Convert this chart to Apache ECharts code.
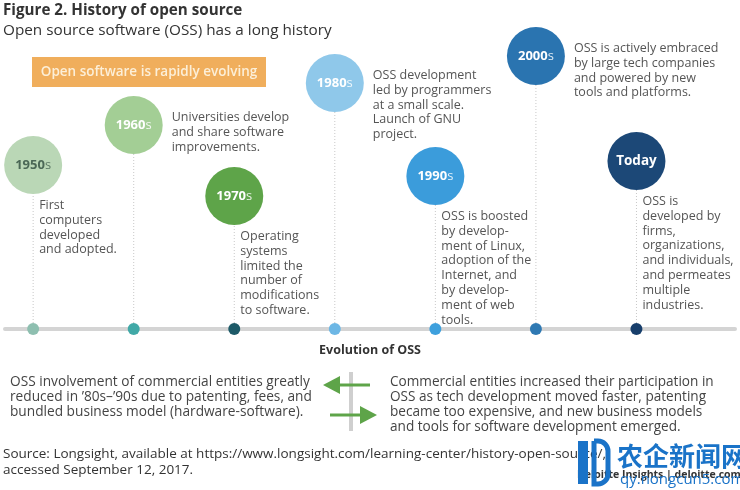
<!DOCTYPE html>
<html><head><meta charset="utf-8">
<script src="https://cdn.jsdelivr.net/npm/echarts@6/dist/echarts.min.js"></script>
<style>html,body{margin:0;padding:0;background:#fff}#c{width:740px;height:490px}</style>
</head><body><div id="c"></div>
<script>
// ---- data ----
const eras = ['1950s', '1960s', '1970s', '1980s', '1990s', '2000s', 'Today'];
// stagger level of each era bubble above the timeline
const levels = [164, 204, 133, 246, 153, 273, 168];
const descriptions = [
  'First\ncomputers\ndeveloped\nand adopted.',
  'Universities develop\nand share software\nimprovements.',
  'Operating\nsystems\nlimited the\nnumber of\nmodifications\nto software.',
  'OSS development\nled by programmers\nat a small scale.\nLaunch of GNU\nproject.',
  'OSS is boosted\nby develop-\nment of Linux,\nadoption of the\nInternet, and\nby develop-\nment of web\ntools.',
  'OSS is actively embraced\nby large tech companies\nand powered by new\ntools and platforms.',
  'OSS is\ndeveloped by\nfirms,\norganizations,\nand individuals,\nand permeates\nmultiple\nindustries.'
];
const titleText = 'Figure 2. History of open source';
const subtitleText = 'Open source software (OSS) has a long history';
const bannerText = 'Open software is rapidly evolving';
const axisTitle = 'Evolution of OSS';
const leftNote = 'OSS involvement of commercial entities greatly\nreduced in \u201980s\u2013\u201990s due to patenting, fees, and\nbundled business model (hardware-software).';
const rightNote = 'Commercial entities increased their participation in\nOSS as tech development moved faster, patenting\nbecame too expensive, and new business models\nand tools for software development emerged.';
const sourceText = 'Source: Longsight, available at https://www.longsight.com/learning-center/history-open-source/,\naccessed September 12, 2017.';
const creditText = 'Deloitte Insights | deloitte.com/insights';

// ---- styles ----
const circleColors = ['#bad7b6', '#a3ce95', '#5ea449', '#8fc8ea', '#3b9cdb', '#2a74b0', '#1c4877'];
const dotColors = ['#8ebfb0', '#41a9a7', '#1d5a68', '#6db7e5', '#3ea0dd', '#2f79b3', '#173e6b'];
const labelColors = ['#4b6856', '#fff', '#fff', '#fff', '#fff', '#fff', '#fff'];
const FONT = '"Open Sans", sans-serif';
const TXT = '#555';

const chart = echarts.init(document.getElementById('c'), null, {renderer: 'canvas'});

const bubbleData = eras.map((e, i) => ({
  value: [i, levels[i]],
  itemStyle: {color: circleColors[i], opacity: 1},
  label: {
    formatter: e === 'Today' ? '{t|Today}' : '{b|' + e.slice(0, 4) + '}{s|s}',
    rich: {
      b: {fontFamily: FONT, fontWeight: 'bold', fontSize: 13, color: labelColors[i]},
      s: {fontFamily: FONT, fontWeight: 'normal', fontSize: 13, color: labelColors[i], opacity: 0.85},
      t: {fontFamily: FONT, fontWeight: 'bold', fontSize: 13.5, color: labelColors[i]}
    }
  }
}));

const option = {
  animation: false,
  backgroundColor: '#fff',
  grid: {left: 5, right: 5, top: 29, bottom: 161},
  xAxis: {
    type: 'value', min: -0.28, max: 6.98,
    axisLine: {show: true, lineStyle: {color: '#d4d4d4', width: 4}},
    axisTick: {show: false}, axisLabel: {show: false}, splitLine: {show: false}
  },
  yAxis: {type: 'value', min: 0, max: 300, show: false},
  series: [
    {
      type: 'custom',
      z: 1,
      data: eras.map((e, i) => [i, levels[i]]),
      renderItem: function (params, api) {
        const i = params.dataIndex;
        const base = api.coord([api.value(0), 0]);
        const top = api.coord([api.value(0), api.value(1)]);
        const right = api.value(1) > 190;
        const tx = right ? top[0] + 38 : top[0] + 6;
        const ty = right ? top[1] - 15 : top[1] + 33;
        return {
          type: 'group',
          children: [
            {type: 'line', shape: {x1: base[0], y1: base[1], x2: top[0], y2: top[1]},
             style: {stroke: '#c8c8c8', lineWidth: 1, lineDash: [1, 2]}},
            {type: 'text', x: tx, y: ty,
             style: {text: descriptions[i], fill: TXT, font: '12.5px ' + FONT, lineHeight: 14.8,
                     textVerticalAlign: 'top', verticalAlign: 'top'}}
          ]
        };
      }
    },
    {
      type: 'scatter',
      z: 3,
      symbolSize: 58,
      itemStyle: {opacity: 1},
      data: bubbleData,
      label: {show: true, position: 'inside'}
    },
    {
      type: 'scatter',
      z: 4,
      symbolSize: 12,
      itemStyle: {opacity: 1},
      data: eras.map((e, i) => ({value: [i, 0], itemStyle: {color: dotColors[i], opacity: 1}}))
    }
  ],
  graphic: [
    {type: 'text', left: 3, top: 3, style: {text: titleText, font: 'bold 15.2px ' + FONT, fill: '#333'}},
    {type: 'text', left: 3, top: 23, style: {text: subtitleText, font: '15.3px ' + FONT, fill: '#333'}},
    {type: 'rect', shape: {x: 32, y: 57, width: 234, height: 30}, style: {fill: '#f0ae5c'}},
    {type: 'text', x: 149, y: 72, style: {text: bannerText, font: '600 13.5px ' + FONT, fill: '#fcefd8',
      align: 'center', verticalAlign: 'middle'}},
    {type: 'text', x: 370, y: 350, style: {text: axisTitle, font: 'bold 12.5px ' + FONT, fill: '#333',
      align: 'center', verticalAlign: 'middle'}},
    {type: 'text', x: 10, y: 375, style: {text: leftNote, font: '13.7px ' + FONT, fill: '#444', lineHeight: 15}},
    {type: 'text', x: 390, y: 375, style: {text: rightNote, font: '13.6px ' + FONT, fill: '#444', lineHeight: 15}},
    // arrows
    {type: 'rect', shape: {x: 349, y: 372, width: 4, height: 59}, style: {fill: '#cfcfcf'}},
    {type: 'rect', shape: {x: 338, y: 383.5, width: 32, height: 3}, style: {fill: '#5ea449'}},
    {type: 'polygon', shape: {points: [[323, 385], [340, 376], [340, 394]]}, style: {fill: '#5ea449'}},
    {type: 'rect', shape: {x: 330, y: 413.5, width: 32, height: 3}, style: {fill: '#5ea449'}},
    {type: 'polygon', shape: {points: [[377, 415], [360, 406], [360, 424]]}, style: {fill: '#5ea449'}},
    {type: 'text', x: 3, y: 446, style: {text: sourceText, font: '13.5px ' + FONT, fill: '#333', lineHeight: 16}},
    {type: 'text', x: 577, y: 470, style: {text: creditText, font: 'bold 10.5px ' + FONT, fill: '#333'}},
    // watermark
    {type: 'rect', shape: {x: 578, y: 441, width: 10, height: 43}, style: {fill: '#1a73c8'}},
    {type: 'rect', shape: {x: 594, y: 441, width: 14, height: 43, r: [0, 10, 10, 0]}, style: {fill: 'none', stroke: '#1a73c8', lineWidth: 5}},
    {type: 'text', x: 617, y: 443, style: {text: '农企新闻网', font: 'bold 26px "Noto Sans CJK SC"', fill: '#1a73c8'}},
    {type: 'text', x: 620, y: 472, style: {text: 'qy.nongcun5.com', font: '15px ' + FONT, fill: '#1a73c8'}}
  ]
};
chart.setOption(option);
</script>
</body></html>
